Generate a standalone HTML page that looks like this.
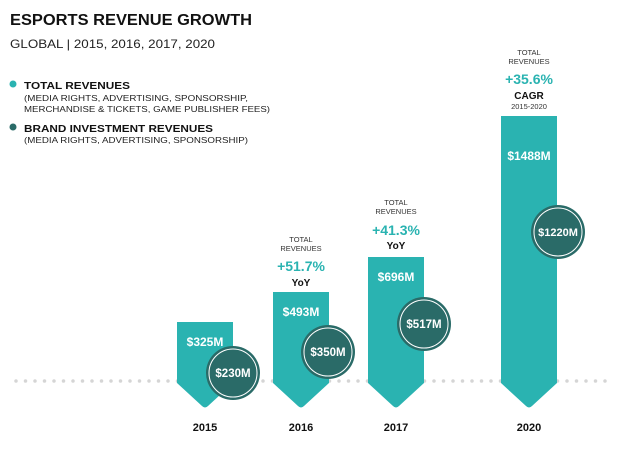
<!DOCTYPE html>
<html><head><style>
body{margin:0;width:617px;height:448px;background:#fff;overflow:hidden;font-family:"Liberation Sans",sans-serif}
</style></head><body>
<svg width="617" height="448" xmlns="http://www.w3.org/2000/svg" font-family="Liberation Sans, sans-serif">
<text x="10" y="25" font-size="16" font-weight="bold" fill="#111" textLength="242" lengthAdjust="spacingAndGlyphs">ESPORTS REVENUE GROWTH</text>
<text x="10" y="48" font-size="12" fill="#222" textLength="205" lengthAdjust="spacingAndGlyphs">GLOBAL | 2015, 2016, 2017, 2020</text>
<circle cx="13" cy="84" r="3.5" fill="#2ab3b1"/>
<text x="24" y="89" font-size="10.5" font-weight="bold" fill="#111" textLength="106" lengthAdjust="spacingAndGlyphs">TOTAL REVENUES</text>
<text x="24" y="101" font-size="8" fill="#222" textLength="224" lengthAdjust="spacingAndGlyphs">(MEDIA RIGHTS, ADVERTISING, SPONSORSHIP,</text>
<text x="24" y="112" font-size="8" fill="#222" textLength="246" lengthAdjust="spacingAndGlyphs">MERCHANDISE &amp; TICKETS, GAME PUBLISHER FEES)</text>
<circle cx="13" cy="127" r="3.5" fill="#2a6b68"/>
<text x="24" y="132" font-size="10.5" font-weight="bold" fill="#111" textLength="189" lengthAdjust="spacingAndGlyphs">BRAND INVESTMENT REVENUES</text>
<text x="24" y="143" font-size="8" fill="#222" textLength="224" lengthAdjust="spacingAndGlyphs">(MEDIA RIGHTS, ADVERTISING, SPONSORSHIP)</text>

<line x1="16" y1="381" x2="606" y2="381" stroke="#d5d5d5" stroke-width="3.5" stroke-linecap="round" stroke-dasharray="0 9.5"/>

<g fill="#2ab3b1">
<path d="M177 322H233V383L208 406Q205 409 202 406L177 383Z"/>
<path d="M273 292H329V383L304 406Q301 409 298 406L273 383Z"/>
<path d="M368 257H424V383L399 406Q396 409 393 406L368 383Z"/>
<path d="M501 116H557V383L532 406Q529 409 526 406L501 383Z"/>
</g>
<g font-weight="bold" font-size="12" fill="#fff" text-anchor="middle">
<text x="205" y="346">$325M</text>
<text x="301" y="316">$493M</text>
<text x="396" y="281">$696M</text>
<text x="529" y="160">$1488M</text>
</g>
<g>
<circle cx="233" cy="373" r="27" fill="#2a6b68"/><circle cx="233" cy="373" r="24" fill="none" stroke="#fff" stroke-width="1"/>
<circle cx="328" cy="352" r="27" fill="#2a6b68"/><circle cx="328" cy="352" r="24" fill="none" stroke="#fff" stroke-width="1"/>
<circle cx="424" cy="324" r="27" fill="#2a6b68"/><circle cx="424" cy="324" r="24" fill="none" stroke="#fff" stroke-width="1"/>
<circle cx="558" cy="232" r="27" fill="#2a6b68"/><circle cx="558" cy="232" r="24" fill="none" stroke="#fff" stroke-width="1"/>
</g>
<g font-weight="bold" font-size="11.5" fill="#fff" text-anchor="middle">
<text x="233" y="377">$230M</text>
<text x="328" y="356">$350M</text>
<text x="424" y="328">$517M</text>
<text x="558" y="236" font-size="11">$1220M</text>
</g>
<g font-weight="bold" font-size="11" fill="#111" text-anchor="middle">
<text x="205" y="431">2015</text>
<text x="301" y="431">2016</text>
<text x="396" y="431">2017</text>
<text x="529" y="431">2020</text>
</g>
<g text-anchor="middle" font-size="7.5" fill="#333">
<text x="301" y="242">TOTAL</text><text x="301" y="251">REVENUES</text>
<text x="396" y="205">TOTAL</text><text x="396" y="214">REVENUES</text>
<text x="529" y="55">TOTAL</text><text x="529" y="64">REVENUES</text>
<text x="529" y="109">2015-2020</text>
</g>
<g text-anchor="middle" font-weight="bold" font-size="14" fill="#2ab3b1">
<text x="301" y="271">+51.7%</text>
<text x="396" y="235">+41.3%</text>
<text x="529" y="84">+35.6%</text>
</g>
<g text-anchor="middle" font-weight="bold" font-size="10" fill="#111">
<text x="301" y="286">YoY</text>
<text x="396" y="249">YoY</text>
<text x="529" y="99">CAGR</text>
</g>
</svg>
</body></html>
